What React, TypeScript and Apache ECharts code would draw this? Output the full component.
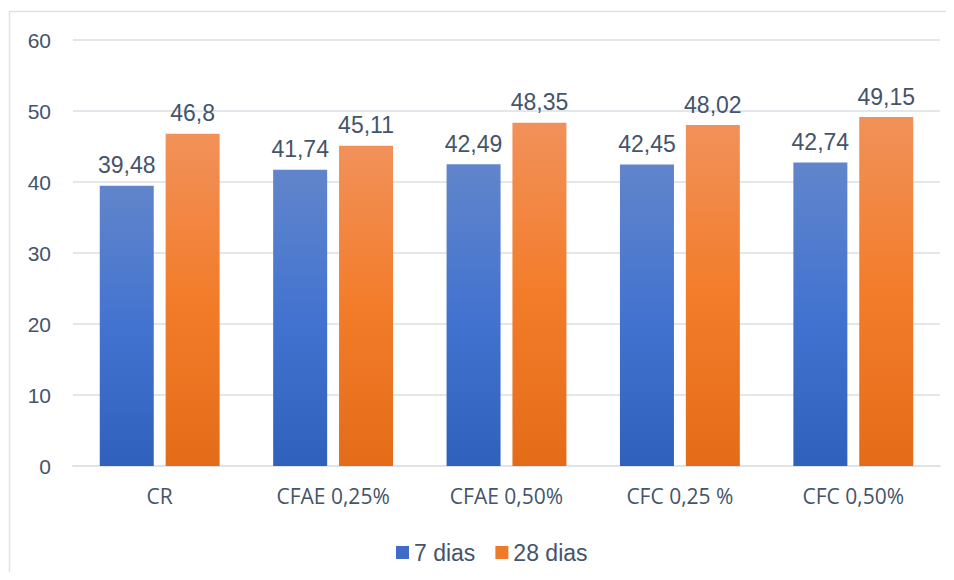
import React, { useEffect, useRef } from "react";
import * as echarts from "echarts";

const categories = ["CR", "CFAE 0,25%", "CFAE 0,50%", "CFC 0,25 %", "CFC 0,50%"];
const dias7 = [39.48, 41.74, 42.49, 42.45, 42.74];
const dias28 = [46.8, 45.11, 48.35, 48.02, 49.15];
const seriesNames = ["7 dias", "28 dias"];

const TEXT = "#44546a";

const fmt = (v: number) => String(v).replace(".", ",");

export default function App() {
  const ref = useRef<HTMLDivElement>(null);
  useEffect(() => {
    if (!ref.current) return;
    const chart = echarts.init(ref.current, undefined, { renderer: "svg" });
    const blue = new echarts.graphic.LinearGradient(0, 0, 0, 1, [
      { offset: 0, color: "#6185cb" },
      { offset: 0.5, color: "#4373d0" },
      { offset: 1, color: "#2f61bc" },
    ]);
    const orange = new echarts.graphic.LinearGradient(0, 0, 0, 1, [
      { offset: 0, color: "#f1915a" },
      { offset: 0.5, color: "#f37c2a" },
      { offset: 1, color: "#e46c19" },
    ]);
    const labelStyle = {
      show: true,
      position: "top",
      distance: 9,
      color: TEXT,
      fontSize: 23,
      fontFamily: "Liberation Sans, Arial",
      formatter: (p: any) => fmt(p.value),
    };
    chart.setOption({
      animation: false,
      graphic: [
        {
          type: "rect",
          shape: { x: 1.5, y: 3.5, width: 1000, height: 1000 },
          style: { fill: "none", stroke: "#dde2e8", lineWidth: 1.5 },
          silent: true,
        },
      ],
      grid: { left: 65, right: 6, top: 32, bottom: 106, containLabel: false },
      legend: {
        data: [
          { name: seriesNames[0], itemStyle: { color: "#3e6cc6" } },
          { name: seriesNames[1], itemStyle: { color: "#ee7a2a" } },
        ],
        left: 383,
        top: 528,
        itemWidth: 13,
        itemHeight: 13,
        itemGap: 20,
        icon: "rect",
        textStyle: { color: TEXT, fontSize: 23, fontFamily: "Liberation Sans, Arial" },
      },
      xAxis: {
        type: "category",
        data: categories,
        axisLine: { lineStyle: { color: "#dfe3e8", width: 2 } },
        axisTick: { show: false },
        axisLabel: { color: TEXT, fontSize: 21, fontFamily: "Open Sans", margin: 19 },
      },
      yAxis: {
        type: "value",
        min: 0,
        max: 60,
        interval: 10,
        axisLine: { show: false },
        axisTick: { show: false },
        splitLine: { lineStyle: { color: "#e3e6ea", width: 2 } },
        axisLabel: { color: TEXT, fontSize: 21, fontFamily: "Liberation Sans, Arial", margin: 22 },
      },
      series: [
        {
          name: seriesNames[0],
          type: "bar",
          data: dias7,
          barWidth: 54,
          barGap: "22%",
          itemStyle: { color: blue },
          label: labelStyle,
        },
        {
          name: seriesNames[1],
          type: "bar",
          data: dias28,
          barWidth: 54,
          barGap: "22%",
          itemStyle: { color: orange },
          label: labelStyle,
        },
      ],
    });
    return () => chart.dispose();
  }, []);
  return <div ref={ref} style={{ width: 938, height: 564 }} />;
}
